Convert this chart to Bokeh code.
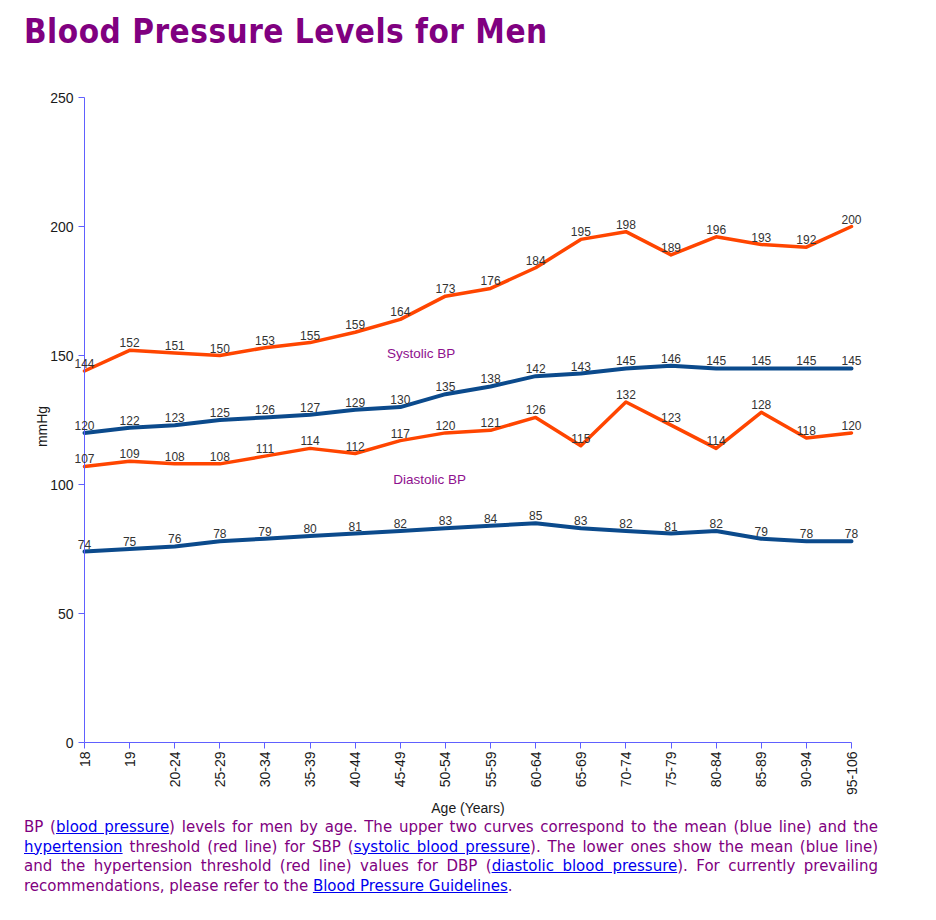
import math

from bokeh.core.properties import value
from bokeh.embed import file_html
from bokeh.layouts import column
from bokeh.models import ColumnDataSource, Div, FixedTicker, Label, LabelSet, Range1d
from bokeh.plotting import figure
from bokeh.resources import INLINE

# Age groups along the x axis
age_groups = ["18", "19", "20-24", "25-29", "30-34", "35-39", "40-44", "45-49",
              "50-54", "55-59", "60-64", "65-69", "70-74", "75-79", "80-84",
              "85-89", "90-94", "95-106"]

# Systolic blood pressure (mmHg): hypertension threshold and mean
sbp_threshold = [144, 152, 151, 150, 153, 155, 159, 164, 173, 176, 184, 195,
                 198, 189, 196, 193, 192, 200]
sbp_mean = [120, 122, 123, 125, 126, 127, 129, 130, 135, 138, 142, 143,
            145, 146, 145, 145, 145, 145]

# Diastolic blood pressure (mmHg): hypertension threshold and mean
dbp_threshold = [107, 109, 108, 108, 111, 114, 112, 117, 120, 121, 126, 115,
                 132, 123, 114, 128, 118, 120]
dbp_mean = [74, 75, 76, 78, 79, 80, 81, 82, 83, 84, 85, 83,
            82, 81, 82, 79, 78, 78]

y_ticks = [0, 50, 100, 150, 200, 250]
y_max = 250

RED = "#ff4500"
BLUE = "#0b4a8c"
AXIS = "#6060ff"
PURPLE = "#800080"
FONT = "Liberation Sans"

xs = list(range(len(age_groups)))
last = len(age_groups) - 1

# Page geometry (px). Both axes are pinned at 0 inside a frame that also holds
# their labels, so nothing near the chart edges gets cut by the frame clip.
X_STEP = 767 / last          # px per age group
Y_UNIT = 645 / y_max         # px per mmHg
AXIS_X, AXIS_Y = 84, 742     # page position of the origin
FIG_TOP = 60                 # the title block sits above the figure
FRAME_L, FRAME_R = 26, 909
FRAME_T, FRAME_B = 86, 816

x_start = -(AXIS_X - FRAME_L) / X_STEP
x_end = x_start + (FRAME_R - FRAME_L) / X_STEP
y_start = -(FRAME_B - AXIS_Y) / Y_UNIT
y_end = y_start + (FRAME_B - FRAME_T) / Y_UNIT

p = figure(
    frame_width=FRAME_R - FRAME_L, frame_height=FRAME_B - FRAME_T,
    x_range=Range1d(x_start, x_end), y_range=Range1d(y_start, y_end),
    output_backend="svg", toolbar_location=None, title=None,
    min_border_left=FRAME_L, min_border_right=936 - FRAME_R,
    min_border_top=FRAME_T - FIG_TOP, min_border_bottom=0,
)
p.outline_line_color = None
p.xgrid.visible = False
p.ygrid.visible = False
p.background_fill_color = "white"
p.border_fill_color = "white"

for ax in (p.xaxis[0], p.yaxis[0]):
    ax.axis_line_color = AXIS
    ax.axis_line_width = 1
    ax.major_tick_line_color = AXIS
    ax.major_tick_out = 6
    ax.major_tick_in = 0
    ax.minor_tick_line_color = None
    ax.major_label_text_font = FONT
    ax.major_label_text_font_size = "14px"
    ax.major_label_text_color = "#1a1a1a"
    ax.axis_label_text_font = FONT
    ax.axis_label_text_font_size = "14px"
    ax.axis_label_text_font_style = "normal"
    ax.axis_label_text_color = "#1a1a1a"

p.xaxis.ticker = FixedTicker(ticks=xs)
p.xaxis.bounds = (0, last)
p.xaxis.fixed_location = 0
p.xaxis.major_label_overrides = {i: lab for i, lab in enumerate(age_groups)}
p.xaxis.major_label_orientation = math.pi / 2
p.xaxis.major_label_standoff = 3
p.xaxis.axis_label = "Age (Years)"
p.xaxis.axis_label_standoff = 2

p.yaxis.ticker = FixedTicker(ticks=y_ticks)
p.yaxis.bounds = (0, y_max)
p.yaxis.fixed_location = 0
p.yaxis.major_label_standoff = 5

# y axis title, centred on the axis span rather than on the whole frame
p.add_layout(Label(x=-(AXIS_X - 41) / X_STEP, y=(AXIS_Y - 426) / Y_UNIT,
                   text="mmHg", angle=math.pi / 2, text_align="center",
                   text_baseline="middle", text_font=FONT,
                   text_font_size="14px", text_color="#1a1a1a"))

series = [
    (sbp_threshold, RED, 3.5),
    (sbp_mean, BLUE, 4),
    (dbp_threshold, RED, 3.5),
    (dbp_mean, BLUE, 4),
]
for vals, color, lw in series:
    src = ColumnDataSource(dict(x=xs, y=vals, t=[str(v) for v in vals]))
    p.line("x", "y", source=src, line_color=color, line_width=lw,
           line_join="round", line_cap="round")
    p.add_layout(LabelSet(x="x", y="y", text="t", source=src,
                          text_align="center", text_baseline="alphabetic",
                          y_offset=3, text_font=value(FONT),
                          text_font_size="12px", text_color="#333333"))

p.add_layout(Label(x=7.46, y=150.8, text="Systolic BP", text_align="center",
                   text_baseline="middle", text_font=FONT,
                   text_font_size="13.5px", text_color="#8e108e"))
p.add_layout(Label(x=7.65, y=101.9, text="Diastolic BP", text_align="center",
                   text_baseline="middle", text_font=FONT,
                   text_font_size="13.5px", text_color="#8e108e"))

title = Div(
    text=('<div style="font-family:\'DejaVu Sans Condensed\';font-weight:bold;'
          'font-size:33px;line-height:38px;letter-spacing:0.5px;color:#800080;'
          'padding:13px 0 0 24px;margin:0;white-space:nowrap">'
          'Blood Pressure Levels for Men</div>'),
    width=936, height=FIG_TOP, margin=0,
)

LINK = 'style="color:#0000ee;text-decoration:underline"'
lines = [
    f'BP (<a href="#" {LINK}>blood pressure</a>) levels for men by age. The upper two '
    'curves correspond to the mean (blue line) and the',
    f'<a href="#" {LINK}>hypertension</a> threshold (red line) for SBP '
    f'(<a href="#" {LINK}>systolic blood pressure</a>). The lower ones show the mean '
    '(blue line)',
    'and the hypertension threshold (red line) values for DBP '
    f'(<a href="#" {LINK}>diastolic blood pressure</a>). For currently prevailing',
    f'recommendations, please refer to the <a href="#" {LINK}>Blood Pressure '
    'Guidelines</a>.',
]
rows = []
for i, ln in enumerate(lines):
    align = "left" if i == len(lines) - 1 else "justify"
    rows.append(f'<div style="text-align:{align};text-align-last:{align};">{ln}</div>')
caption = Div(
    text=('<div style="font-family:\'DejaVu Sans\';font-size:15px;'
          'line-height:19.5px;color:#800080;width:878px;padding:2px 0 0 24px;">'
          + "".join(rows) + '</div>'),
    width=936, height=92, margin=0,
)

layout = column(title, p, caption, spacing=0)
open("out.html", "w").write(file_html(layout, INLINE))
